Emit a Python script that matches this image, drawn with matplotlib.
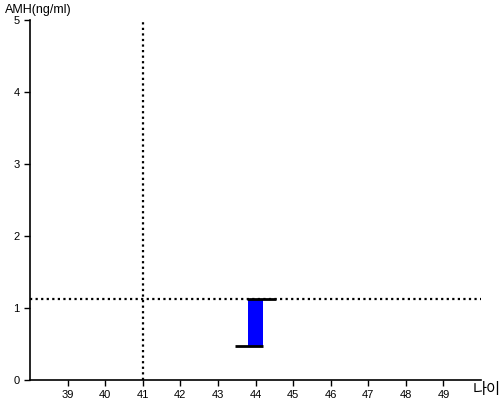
import matplotlib
matplotlib.use('Agg')
import matplotlib.pyplot as plt
import numpy as np

# data
age = [44]
amh_low = [0.47]
amh_high = [1.12]
ref_age = 41
ref_amh = 1.12
x_ticks = list(range(39, 50))
y_ticks = list(range(0, 6))

plt.rcParams['font.family'] = ['Liberation Sans', 'Noto Sans CJK KR', 'DejaVu Sans']

fig = plt.figure(figsize=(5, 4), dpi=100)
ax = fig.add_axes([0.06, 0.05, 0.902, 0.90])

# bar between low and high
heights = np.array(amh_high) - np.array(amh_low)
ax.bar(age, heights, bottom=amh_low, width=0.42, color='#0000ff', zorder=3)
# black caps: high to the right, low to the left
for a, lo, hi in zip(age, amh_low, amh_high):
    ax.hlines(hi, a - 0.23, a + 0.55, color='black', lw=2, zorder=4)
    ax.hlines(lo, a - 0.55, a + 0.21, color='black', lw=2, zorder=4)

# reference lines
ax.axvline(ref_age, color='black', ls=(0, (1, 1.5)), lw=1.6, zorder=2)
ax.axhline(ref_amh, color='black', ls=(0, (1, 1.5)), lw=1.6, zorder=2)

ax.set_xlim(38, 50)
ax.set_ylim(0, 5)
ax.set_xticks(x_ticks)
ax.set_yticks(y_ticks)
ax.tick_params(labelsize=8, length=4, width=1)
for s in ['top', 'right']:
    ax.spines[s].set_visible(False)
for s in ['left', 'bottom']:
    ax.spines[s].set_linewidth(1.2)

fig.text(0.01, 0.975, 'AMH(ng/ml)', fontsize=9, va='center', ha='left')
fig.text(0.945, 0.025, '나이', fontsize=11, va='center', ha='left')

fig.savefig('out.png', dpi=100)
